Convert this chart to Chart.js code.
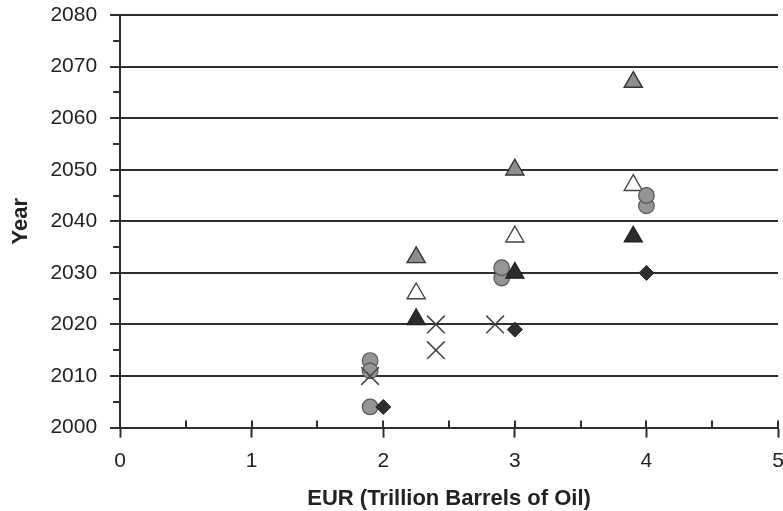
<!DOCTYPE html>
<html>
<head>
<meta charset="utf-8">
<script src="https://cdn.jsdelivr.net/npm/chart.js@4/dist/chart.umd.min.js"></script>
<style>
  html, body { margin: 0; padding: 0; background: #fff; }
  #wrap { width: 783px; height: 511px; }
</style>
</head>
<body>
<div id="wrap"><canvas id="c" width="783" height="511"></canvas></div>
<script>
// ---- data ----
const eurGrayTri   = [2.25, 3.0, 3.9];
const yearGrayTri  = [2033, 2050, 2067];

const eurWhiteTri  = [2.25, 3.0, 3.9];
const yearWhiteTri = [2026, 2037, 2047];

const eurBlackTri  = [2.25, 3.0, 3.9];
const yearBlackTri = [2021, 2030, 2037];

const eurCircle    = [1.9, 1.9, 1.9, 2.9, 2.9, 4.0, 4.0];
const yearCircle   = [2004, 2013, 2011, 2029, 2031, 2043, 2045];

const eurDiamond   = [2.0, 3.0, 4.0];
const yearDiamond  = [2004, 2019, 2030];

const eurCross     = [1.9, 2.4, 2.4, 2.85];
const yearCross    = [2010, 2020, 2015, 2020];

const xTickLabels = ['0', '1', '2', '3', '4', '5'];
const yTickLabels = ['2000', '2010', '2020', '2030', '2040', '2050', '2060', '2070', '2080'];

const pts = (xs, ys) => xs.map((x, i) => ({ x: x, y: ys[i] }));

const FONT = "'Liberation Sans', Arial, sans-serif";
const AXIS = '#2e2e2e';

const minorTicks = {
  id: 'minorTicks',
  afterDraw(chart) {
    const ctx = chart.ctx;
    const xs = chart.scales.x, ys = chart.scales.y;
    ctx.save();
    ctx.strokeStyle = AXIS;
    ctx.lineWidth = 2;
    ctx.beginPath();
    for (let v = 0; v <= 5.0001; v += 0.5) {
      const px = Math.round(xs.getPixelForValue(v));
      ctx.moveTo(px, ys.bottom);
      ctx.lineTo(px, ys.bottom - 7);
    }
    for (let v = 2005; v < 2080; v += 10) {
      const py = Math.round(ys.getPixelForValue(v));
      ctx.moveTo(xs.left, py);
      ctx.lineTo(xs.left - 7, py);
    }
    ctx.stroke();
    ctx.restore();
  }
};

new Chart(document.getElementById('c'), {
  type: 'scatter',
  data: {
    datasets: [
      { label: 'cross', data: pts(eurCross, yearCross), pointStyle: 'crossRot', pointRadius: 12.5, pointBorderWidth: 1.5,
        borderColor: '#444', backgroundColor: '#444' },
      { label: 'black triangle', data: pts(eurBlackTri, yearBlackTri), pointStyle: 'triangle', pointRadius: 10.5, pointBorderWidth: 1.2,
        borderColor: '#1e1e1e', backgroundColor: '#2b2b2b' },
      { label: 'diamond', data: pts(eurDiamond, yearDiamond), pointStyle: 'rectRot', pointRadius: 7.5, pointBorderWidth: 1,
        borderColor: '#222', backgroundColor: '#2e2e2e' },
      { label: 'circle', data: pts(eurCircle, yearCircle), pointStyle: 'circle', pointRadius: 7.8, pointBorderWidth: 1.2,
        borderColor: '#555', backgroundColor: '#959595' },
      { label: 'white triangle', data: pts(eurWhiteTri, yearWhiteTri), pointStyle: 'triangle', pointRadius: 10.5, pointBorderWidth: 1.4,
        borderColor: '#444', backgroundColor: '#ffffff' },
      { label: 'gray triangle', data: pts(eurGrayTri, yearGrayTri), pointStyle: 'triangle', pointRadius: 10.5, pointBorderWidth: 1.4,
        borderColor: '#333', backgroundColor: '#8e8e8e' }
    ]
  },
  options: {
    responsive: false,
    animation: false,
    devicePixelRatio: 1,
    layout: { autoPadding: false, padding: { left: 4, right: 5, top: 15, bottom: -1 } },
    plugins: { legend: { display: false }, tooltip: { enabled: false } },
    elements: { point: { hoverRadius: 0 } },
    scales: {
      x: {
        type: 'linear', min: 0, max: 5, position: 'bottom',
        afterFit: (s) => { s.paddingLeft = 0; s.paddingRight = 0; },
        ticks: { stepSize: 1, padding: 11.4, color: '#222', autoSkip: false, maxRotation: 0,
          font: { family: FONT, size: 21 },
          callback: (v) => xTickLabels[Math.round(v)] },
        grid: { display: true, drawOnChartArea: false, drawTicks: true, tickLength: 10, tickWidth: 2, tickColor: AXIS },
        border: { display: true, color: AXIS, width: 2 },
        title: { display: true, text: 'EUR (Trillion Barrels of Oil)', color: '#222',
          font: { family: FONT, size: 22, weight: 'bold' }, padding: { top: 0, bottom: 0 } }
      },
      y: {
        type: 'linear', min: 2000, max: 2080,
        afterFit: (s) => { s.paddingTop = 0; s.paddingBottom = 0; },
        ticks: { stepSize: 10, padding: 13, color: '#222', autoSkip: false,
          font: { family: FONT, size: 21 },
          callback: (v) => yTickLabels[Math.round((v - 2000) / 10)] },
        grid: { display: true, color: AXIS, lineWidth: 2, drawTicks: true, tickLength: 10, tickWidth: 2, tickColor: AXIS },
        border: { display: true, color: AXIS, width: 2 },
        title: { display: true, text: 'Year', color: '#222',
          font: { family: FONT, size: 22, weight: 'bold' }, padding: { top: 4, bottom: 3 } }
      }
    }
  },
  plugins: [minorTicks]
});
</script>
</body>
</html>
